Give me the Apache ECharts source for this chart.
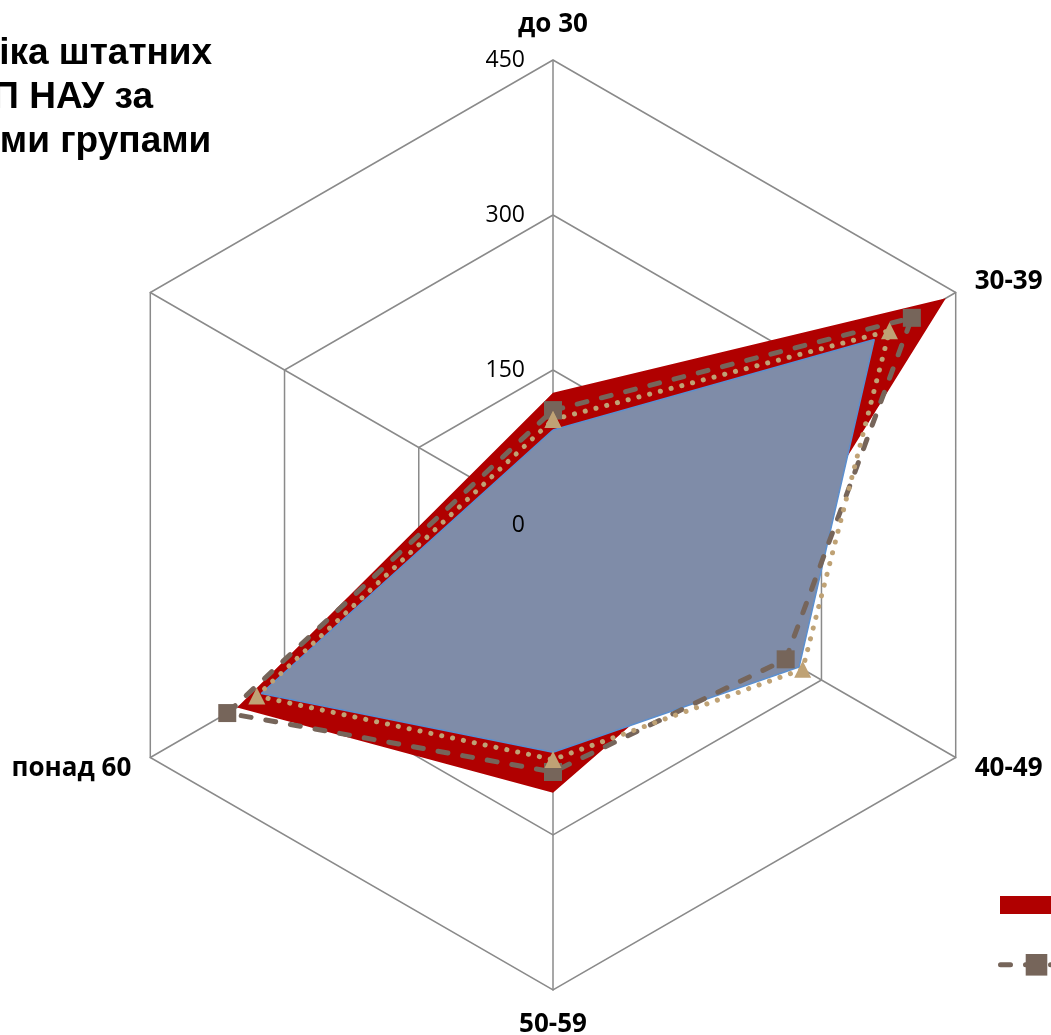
<!DOCTYPE html>
<html>
<head>
<meta charset="utf-8">
<script src="https://cdn.jsdelivr.net/npm/echarts@6/dist/echarts.min.js"></script>
<style>
  html, body { margin: 0; padding: 0; background: #fff; }
  #chart { width: 1051px; height: 1035px; }
</style>
</head>
<body>
<div id="chart"></div>
<script>
// вікові групи (остання вісь без підпису і без значень)
var categories = ["до 30", "30-39", "40-49", "50-59", "понад 60", ""];
var ticks = [0, 150, 300, 450];
var seriesNames = ["2016", "2017", "2018", "2019"];
var valuesRed = [128, 439, 207, 259, 353, null];
var valuesBlue = [92, 359, 275, 220, 326, null];
var valuesDashed = [111, 401, 260, 239, 364, null];
var valuesDotted = [102, 376, 279, 227, 331, null];

var chart = echarts.init(document.getElementById("chart"));

// точки для полярної системи: [радіус, кут], порожні значення пропускаються
function toPolar(vals) {
  var step = 360 / categories.length;
  var pts = [];
  vals.forEach(function (v, i) {
    if (v !== null) pts.push([v, i * step]);
  });
  pts.push([pts[0][0], 360]); // замкнути контур
  return pts;
}

// радар малює осі проти годинникової стрілки, тому порядок обертаємо
var indicator = [categories[0]].concat(categories.slice(1).reverse()).map(function (n) {
  return { name: n, min: ticks[0], max: ticks[ticks.length - 1] };
});

var center = [553, 525];
var radius = 465;
var gridColor = "#8a8a8a";
var dashColor = "#76655a";

var option = {
  animation: false,
  title: {
    text: "Динаміка штатних\nНПП НАУ за\nвіковими групами",
    left: 46,
    top: 32,
    padding: 0,
    textAlign: "center",
    textStyle: {
      fontFamily: "Liberation Sans",
      fontSize: 37,
      fontWeight: "bold",
      color: "#000",
      lineHeight: 44,
    },
  },
  legend: [
    {
      orient: "vertical",
      left: 995,
      top: 890,
      itemWidth: 72,
      itemHeight: 18,
      data: [{ name: seriesNames[1], icon: "rect" }],
      textStyle: { fontFamily: "Open Sans", fontSize: 20, color: "#000" },
    },
    {
      orient: "vertical",
      left: 993,
      top: 949,
      itemWidth: 72,
      itemHeight: 27,
      data: [{ name: seriesNames[2] }],
      lineStyle: { width: 5, color: dashColor, type: [10, 15], cap: "round" },
      textStyle: { fontFamily: "Open Sans", fontSize: 20, color: "#000" },
    },
  ],
  radar: {
    center: center,
    radius: radius,
    startAngle: 90,
    shape: "polygon",
    splitNumber: ticks.length - 1,
    indicator: indicator,
    nameGap: 22,
    axisName: {
      color: "#000",
      fontFamily: "Open Sans",
      fontSize: 26,
      fontWeight: "bold",
    },
    splitLine: { lineStyle: { color: gridColor, width: 1.5 } },
    splitArea: { show: false },
    axisLine: { lineStyle: { color: gridColor, width: 1.5 } },
  },
  polar: { center: center, radius: radius },
  angleAxis: {
    type: "value",
    min: 0,
    max: 360,
    startAngle: 90,
    clockwise: true,
    show: false,
  },
  radiusAxis: {
    type: "value",
    min: ticks[0],
    max: ticks[ticks.length - 1],
    interval: ticks[1] - ticks[0],
    z: 10,
    axisLine: { show: false },
    axisTick: { show: false },
    splitLine: { show: false },
    axisLabel: {
      margin: 28,
      fontFamily: "Open Sans",
      fontSize: 23,
      color: "#000",
    },
  },
  series: [
    {
      name: seriesNames[1],
      type: "line",
      coordinateSystem: "polar",
      clip: false,
      showSymbol: false,
      lineStyle: { width: 0, color: "#b00000" },
      itemStyle: { color: "#b00000" },
      areaStyle: { color: "#b00000", opacity: 1 },
      data: toPolar(valuesRed),
    },
    {
      name: seriesNames[0],
      type: "line",
      coordinateSystem: "polar",
      clip: false,
      showSymbol: false,
      lineStyle: { width: 1.5, color: "#5b8fcf" },
      itemStyle: { color: "#7f8ca8" },
      areaStyle: { color: "#7f8ca8", opacity: 1 },
      data: toPolar(valuesBlue),
    },
    {
      name: seriesNames[2],
      type: "line",
      coordinateSystem: "polar",
      clip: false,
      symbol: "rect",
      symbolSize: 18,
      lineStyle: { width: 5, color: dashColor, type: [10, 15], cap: "round" },
      itemStyle: { color: dashColor },
      data: toPolar(valuesDashed),
    },
    {
      name: seriesNames[3],
      type: "line",
      coordinateSystem: "polar",
      clip: false,
      symbol: "triangle",
      symbolSize: 17,
      lineStyle: { width: 5, color: "#bfa275", type: [0.1, 11], cap: "round" },
      itemStyle: { color: "#bfa275" },
      data: toPolar(valuesDotted),
    },
  ],
};
chart.setOption(option);
</script>
</body>
</html>
